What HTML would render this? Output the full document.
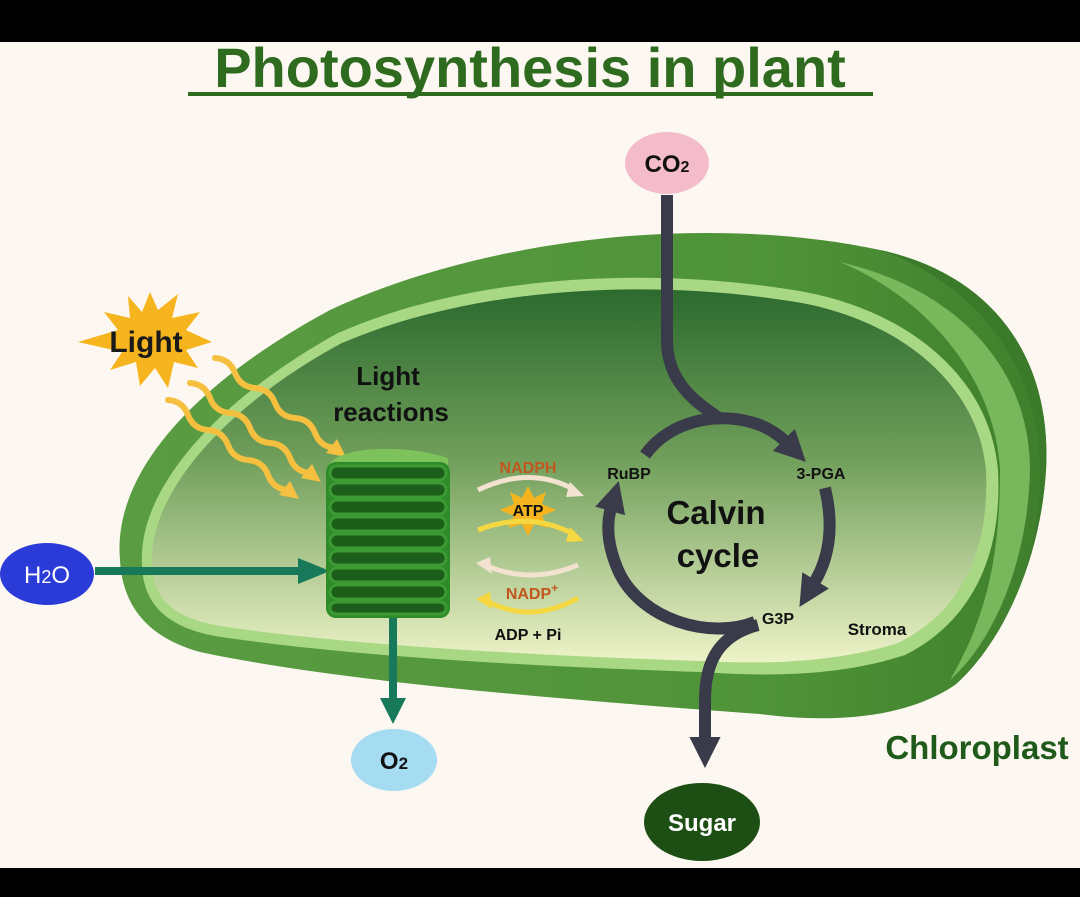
<!DOCTYPE html>
<html><head><meta charset="utf-8"><style>
html,body{margin:0;padding:0;width:1080px;height:897px;overflow:hidden;background:#fcf8f1}
svg{display:block}
text{font-family:"Liberation Sans",sans-serif;font-weight:bold}
</style></head><body>
<svg width="1080" height="897" viewBox="0 0 1080 897" xmlns="http://www.w3.org/2000/svg">
<defs>
<linearGradient id="inner" x1="0" y1="0" x2="0" y2="1">
<stop offset="0" stop-color="#2c6a2e"/><stop offset="0.45" stop-color="#6f9e5a"/><stop offset="1" stop-color="#eef3c8"/>
</linearGradient>
<linearGradient id="outer" x1="0" y1="0" x2="1" y2="0">
<stop offset="0" stop-color="#5a9c42"/><stop offset="0.7" stop-color="#4f9338"/><stop offset="1" stop-color="#3f7f2c"/>
</linearGradient>
<marker id="dk" viewBox="0 0 10 10" refX="1" refY="5" markerWidth="2.6" markerHeight="2.6" orient="auto" markerUnits="strokeWidth"><path d="M0,0 L10,5 L0,10 Z" fill="#3a3b4a"/></marker>
</defs>
<rect x="0" y="0" width="1080" height="42" fill="#000"/>
<rect x="0" y="868" width="1080" height="29" fill="#000"/>
<text x="530" y="87" font-size="56" fill="#2e6b1f" text-anchor="middle">Photosynthesis in plant</text>
<rect x="188" y="92" width="685" height="4" fill="#2e6b1f"/>

<path d="M120,560 C112,470 200,380 330,310 C480,240 700,212 880,250 C995,275 1052,360 1046,470 C1040,565 1000,645 955,685 C900,722 820,722 760,714 C600,702 350,684 200,652 C142,636 122,600 120,560 Z" fill="url(#outer)"/>
<path d="M840,262 C960,290 1030,370 1030,470 C1028,560 995,640 950,680 C985,620 1000,560 1000,470 C995,380 930,300 840,262 Z" fill="#86c466" opacity="0.8"/>
<path d="M880,250 C995,275 1052,360 1046,470 C1040,565 1000,645 955,685 C1010,630 1040,560 1040,470 C1040,370 980,285 880,250Z" fill="#3a7a2a"/>
<path d="M142,565 C137,485 225,395 338,333 C470,275 650,265 805,292 C910,312 990,378 998,470 C1003,565 965,625 905,655 C835,678 760,676 700,672 C550,667 350,657 215,636 C162,626 143,600 142,565 Z" fill="#a8d884"/>
<path d="M152,565 C148,490 232,402 342,343 C472,287 650,277 802,303 C902,322 978,385 986,470 C990,560 955,615 898,643 C830,664 760,664 700,661 C550,656 352,646 220,626 C170,617 153,597 152,565 Z" fill="url(#inner)"/>

<polygon points="150,292 158,310 178,294 172,318 200,312 186,330 212,342 186,350 198,368 174,362 168,388 155,368 140,386 136,362 110,370 122,352 78,342 118,330 104,312 130,318 128,296 142,312" fill="#f6b51f"/>
<text x="146" y="352" font-size="30" fill="#1a1a1a" text-anchor="middle">Light</text>
<g fill="none" stroke="#f5c040" stroke-width="6" stroke-linecap="round">
<path d="M215,358 q14.8,1.1 20,15 t20,15 t20,15 t20,15 t20,15 t20,15"/>
<path d="M190,383 q14.8,1.1 20,15 t20,15 t20,15 t20,15 t20,15 t20,15"/>
<path d="M168,400 q14.8,1.1 20,15 t20,15 t20,15 t20,15 t20,15 t20,15"/>
</g>
<g fill="#f5c040">
<polygon points="346,457 326,453 337,439"/>
<polygon points="321,482 301,478 312,464"/>
<polygon points="299,499 279,495 290,481"/>
</g>
<text x="388" y="385" font-size="26" fill="#111" text-anchor="middle">Light</text>
<text x="391" y="421" font-size="26" fill="#111" text-anchor="middle">reactions</text>

<line x1="95" y1="571" x2="300" y2="571" stroke="#17785a" stroke-width="8"/>
<polygon points="298,558 330,571 298,584" fill="#17785a"/>
<ellipse cx="47" cy="574" rx="47" ry="31" fill="#2b3bd8"/>
<text x="47" y="583" font-size="24" fill="#fff" text-anchor="middle" style="font-weight:normal">H<tspan font-size="18">2</tspan>O</text>
<line x1="393" y1="612" x2="393" y2="700" stroke="#17785a" stroke-width="8"/>
<polygon points="380,698 393,724 406,698" fill="#17785a"/>
<ellipse cx="394" cy="760" rx="43" ry="31" fill="#a6dcf2"/>
<text x="394" y="769" font-size="24" fill="#111" text-anchor="middle">O<tspan font-size="17">2</tspan></text>

<path d="M328,468 C330,448 400,442 448,458 L448,472 L328,472Z" fill="#7dc25a"/>
<rect x="326" y="462" width="124" height="156" rx="10" fill="#2f8a2a"/>
<g fill="#1c5e1a" stroke="#3b9a32" stroke-width="3">
<rect x="330" y="466" width="116" height="14" rx="7"/>
<rect x="330" y="483" width="116" height="14" rx="7"/>
<rect x="330" y="500" width="116" height="14" rx="7"/>
<rect x="330" y="517" width="116" height="14" rx="7"/>
<rect x="330" y="534" width="116" height="14" rx="7"/>
<rect x="330" y="551" width="116" height="14" rx="7"/>
<rect x="330" y="568" width="116" height="14" rx="7"/>
<rect x="330" y="585" width="116" height="14" rx="7"/>
<rect x="330" y="602" width="116" height="12" rx="6"/>
</g>

<text x="528" y="473" font-size="16" fill="#c0571e" text-anchor="middle">NADPH</text>
<path d="M478,490 Q530,465 575,490" fill="none" stroke="#f3e2d0" stroke-width="5"/>
<polygon points="570,482 584,496 566,497" fill="#f3e2d0"/>
<polygon points="528,486 534,498 546,492 542,504 556,510 542,516 548,528 534,524 528,536 522,524 508,528 514,516 500,510 514,504 510,492 522,498" fill="#f6b51f"/>
<text x="528" y="516" font-size="16" fill="#111" text-anchor="middle">ATP</text>
<path d="M478,530 Q530,510 575,535" fill="none" stroke="#f5d840" stroke-width="5"/>
<polygon points="570,527 584,541 566,542" fill="#f5d840"/>
<path d="M578,565 Q530,585 485,565" fill="none" stroke="#f3e2d0" stroke-width="5"/>
<polygon points="490,557 476,563 492,574" fill="#f3e2d0"/>
<text x="532" y="599" font-size="16" fill="#c0571e" text-anchor="middle">NADP<tspan font-size="12" dy="-7">+</tspan></text>
<path d="M578,598 Q530,625 485,600" fill="none" stroke="#f5d840" stroke-width="5"/>
<polygon points="490,592 476,599 492,609" fill="#f5d840"/>
<text x="528" y="640" font-size="16" fill="#111" text-anchor="middle">ADP + Pi</text>

<ellipse cx="667" cy="163" rx="42" ry="31" fill="#f4bccb"/>
<text x="667" y="172" font-size="24" fill="#111" text-anchor="middle">CO<tspan font-size="16">2</tspan></text>
<g fill="none" stroke="#3a3b4a" stroke-width="12">
<path d="M667,195 L667,340 C667,385 700,405 722,420"/>
<path d="M645,455 C670,420 720,410 760,425 C772,430 780,436 786,442" marker-end="url(#dk)"/>
<path d="M825,488 C835,530 828,560 814,583" marker-end="url(#dk)"/>
<path d="M755,622 C710,640 640,620 618,570 C606,542 607,522 611,508" marker-end="url(#dk)"/>
<path d="M758,625 C720,635 705,660 705,700 L705,740" marker-end="url(#dk)"/>
</g>
<ellipse cx="702" cy="822" rx="58" ry="39" fill="#1d4f14"/>
<text x="702" y="831" font-size="24" fill="#fff" text-anchor="middle">Sugar</text>

<text x="629" y="479" font-size="16" fill="#111" text-anchor="middle">RuBP</text>
<text x="821" y="479" font-size="16" fill="#111" text-anchor="middle">3-PGA</text>
<text x="716" y="524" font-size="33" fill="#111" text-anchor="middle">Calvin</text>
<text x="718" y="567" font-size="33" fill="#111" text-anchor="middle">cycle</text>
<text x="778" y="624" font-size="16" fill="#111" text-anchor="middle">G3P</text>
<text x="877" y="635" font-size="17" fill="#111" text-anchor="middle">Stroma</text>
<text x="977" y="759" font-size="33" fill="#1f5a1a" text-anchor="middle">Chloroplast</text>
</svg>
</body></html>
